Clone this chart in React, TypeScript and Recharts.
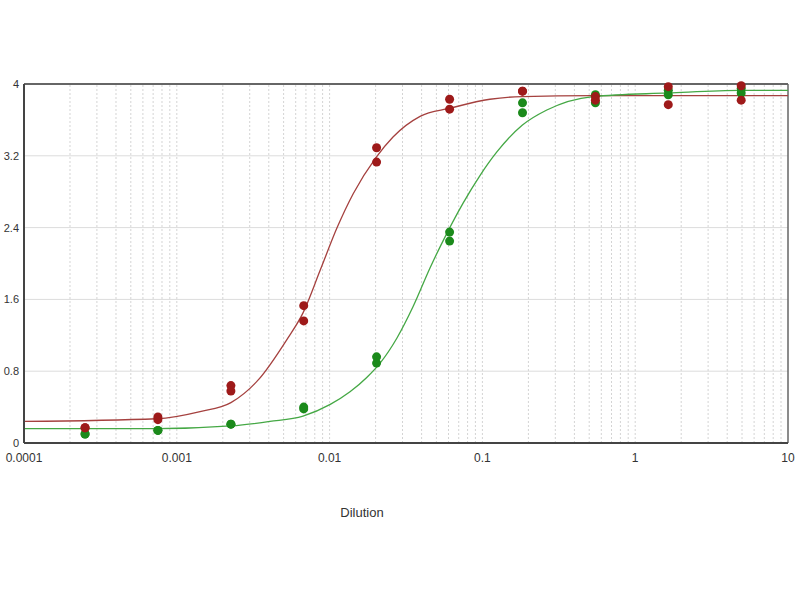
import { ComposedChart, Line, Scatter, XAxis, YAxis, ReferenceLine } from 'recharts'

// dilution steps of the measured wells
const dilutions = [0.000251, 0.000752, 0.00226, 0.00677, 0.0203, 0.061, 0.183, 0.549, 1.646, 4.94]

// red sample, two replicates
const redRep1 = [0.17, 0.29, 0.64, 1.53, 3.29, 3.83, 3.92, 3.86, 3.97, 3.98]
const redRep2 = [0.17, 0.26, 0.58, 1.36, 3.13, 3.72, 3.92, 3.82, 3.77, 3.82]

// green sample, two replicates
const greenRep1 = [0.1, 0.14, 0.21, 0.4, 0.96, 2.35, 3.79, 3.88, 3.93, 3.95]
const greenRep2 = [0.1, 0.14, 0.21, 0.38, 0.89, 2.25, 3.68, 3.79, 3.88, 3.9]

// fitted curves
const redFitX = [0.0001, 0.000741, 0.00142, 0.00226, 0.0034, 0.00524, 0.0067, 0.0087, 0.0112, 0.0143, 0.0201, 0.026, 0.0391, 0.0614, 0.112, 0.182, 0.53, 10]
const redFitY = [0.24, 0.27, 0.35, 0.45, 0.7, 1.15, 1.45, 1.93, 2.4, 2.78, 3.18, 3.41, 3.64, 3.73, 3.83, 3.86, 3.87, 3.87]

const greenFitX = [0.0001, 0.000741, 0.00226, 0.00407, 0.0067, 0.0101, 0.0136, 0.0175, 0.0214, 0.0276, 0.0352, 0.0454, 0.0583, 0.0746, 0.0964, 0.124, 0.182, 0.264, 0.53, 1.64, 4.93, 10]
const greenFitY = [0.16, 0.16, 0.19, 0.24, 0.3, 0.43, 0.57, 0.73, 0.89, 1.17, 1.52, 1.95, 2.33, 2.67, 2.98, 3.24, 3.54, 3.71, 3.86, 3.9, 3.93, 3.93]

const xTicks = [0.0001, 0.001, 0.01, 0.1, 1, 10]
const yTicks = [0, 0.8, 1.6, 2.4, 3.2, 4]
const decades = [0.0001, 0.001, 0.01, 0.1, 1]
const gridX = decades.flatMap(d => [2, 3, 4, 5, 6, 7, 8, 9, 10].map(k => +(k * d).toPrecision(3)))

const toPoints = (xs: number[], ys: number[]) => xs.map((x, i) => ({ x, y: ys[i] }))

const redPoints = [...toPoints(dilutions, redRep1), ...toPoints(dilutions, redRep2)]
const greenPoints = [...toPoints(dilutions, greenRep1), ...toPoints(dilutions, greenRep2)]
const redFit = toPoints(redFitX, redFitY)
const greenFit = toPoints(greenFitX, greenFitY)

const dot = (fill: string) => (props: any) => (
  <circle cx={props.cx} cy={props.cy} r={4.5} fill={fill} />
)

const font = 'Liberation Sans, Arial, sans-serif'
const tickStyle = { fill: '#333', fontSize: 12, fontFamily: font }

export default function App() {
  return (
    <div style={{ position: 'absolute', left: 0, top: 0, background: '#fff' }}>
      <ComposedChart width={800} height={600} margin={{ top: 84, right: 12, left: 0, bottom: 77 }}>
        <XAxis
          type="number"
          dataKey="x"
          scale="log"
          domain={[0.0001, 10]}
          ticks={xTicks}
          tickFormatter={(v: number) => String(v)}
          allowDataOverflow
          height={80}
          tickLine={false}
          tickMargin={4}
          axisLine={{ stroke: '#444', strokeWidth: 2 }}
          tick={tickStyle}
          label={{ value: 'Dilution', position: 'insideBottom', offset: 6, dx: -44, fill: '#333', fontSize: 13, fontFamily: font }}
        />
        <YAxis
          type="number"
          dataKey="y"
          domain={[0, 4]}
          ticks={yTicks}
          width={24}
          tickLine={false}
          tickSize={2}
          tickMargin={3}
          axisLine={{ stroke: '#444', strokeWidth: 2 }}
          tick={{ ...tickStyle, fontSize: 11 }}
        />
        {yTicks.slice(1, -1).map(v => (
          <ReferenceLine key={'h' + v} y={v} stroke="#dcdcdc" strokeWidth={1} />
        ))}
        {gridX.slice(0, -1).map(v => (
          <ReferenceLine key={'v' + v} x={v} stroke="#d4d4d4" strokeWidth={1} strokeDasharray="2 2" />
        ))}
        <ReferenceLine y={4} stroke="#666" strokeWidth={2} />
        <ReferenceLine x={10} stroke="#666" strokeWidth={1.5} />
        <Line data={redFit} dataKey="y" type="monotone" stroke="#a5413f" strokeWidth={1.3} dot={false} isAnimationActive={false} />
        <Line data={greenFit} dataKey="y" type="monotone" stroke="#45a845" strokeWidth={1.3} dot={false} isAnimationActive={false} />
        <Scatter data={greenPoints} dataKey="y" shape={dot('#1b8a1b')} isAnimationActive={false} />
        <Scatter data={redPoints} dataKey="y" shape={dot('#9e1a1a')} isAnimationActive={false} />
      </ComposedChart>
    </div>
  )
}
